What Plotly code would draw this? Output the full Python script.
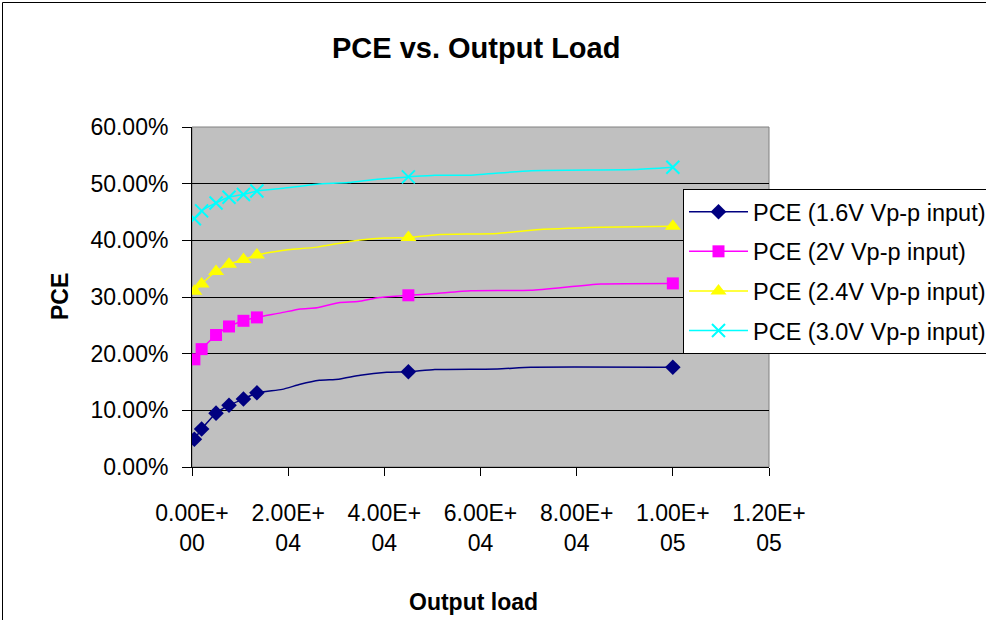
import plotly.graph_objects as go

# ---- data ----
load_pts = [500, 2000, 5000, 7700, 10700, 13500, 45000, 100000]
pce_16 = [4.9, 6.7, 9.5, 10.9, 12.0, 13.1, 16.8, 17.6]
pce_20 = [19.0, 20.8, 23.3, 24.8, 25.8, 26.4, 30.3, 32.4]
pce_24 = [31.0, 32.3, 34.5, 35.8, 36.6, 37.4, 40.5, 42.5]
pce_30 = [43.8, 45.2, 46.6, 47.6, 48.1, 48.7, 51.2, 52.9]

# smoothed connecting lines (vertices)
line_x_16 = [500, 2000, 5000, 7700, 10700, 13500, 18750, 22500, 26500, 30500, 35000, 40500, 45000, 50500, 63500, 70500, 100000]
line_y_16 = [4.9, 6.7, 9.5, 10.9, 12.0, 13.1, 13.7, 14.6, 15.3, 15.5, 16.2, 16.7, 16.8, 17.2, 17.3, 17.6, 17.6]
line_x_20 = [500, 2000, 5000, 7700, 10700, 13500, 18500, 22500, 26000, 30500, 34500, 39000, 45000, 50500, 58000, 70500, 85000, 100000]
line_y_20 = [19.0, 20.8, 23.3, 24.8, 25.8, 26.4, 27.2, 27.9, 28.1, 29.0, 29.2, 29.9, 30.3, 30.6, 31.1, 31.2, 32.3, 32.4]
line_x_24 = [500, 2000, 5000, 7700, 10700, 13500, 18750, 26000, 33500, 40000, 45000, 51000, 63500, 70500, 85000, 100000]
line_y_24 = [31.0, 32.3, 34.5, 35.8, 36.6, 37.4, 38.2, 38.8, 39.9, 40.4, 40.5, 41.0, 41.2, 41.8, 42.3, 42.5]
line_x_30 = [500, 2000, 5000, 7700, 10700, 13500, 19000, 26000, 32500, 38500, 45000, 50500, 58000, 70500, 92000, 100000]
line_y_30 = [43.8, 45.2, 46.6, 47.6, 48.1, 48.7, 49.2, 49.9, 50.2, 50.8, 51.2, 51.5, 51.5, 52.3, 52.5, 52.9]

series_names = ["PCE (1.6V Vp-p input)", "PCE (2V Vp-p input)",
                "PCE (2.4V Vp-p input)", "PCE (3.0V Vp-p input)"]

x_tickvals = [0, 20000, 40000, 60000, 80000, 100000, 120000]
x_ticktext = ["0.00E+<br>00", "2.00E+<br>04", "4.00E+<br>04", "6.00E+<br>04",
              "8.00E+<br>04", "1.00E+<br>05", "1.20E+<br>05"]
y_tickvals = [0, 0.1, 0.2, 0.3, 0.4, 0.5, 0.6]

# ---- styles ----
FONT = "Liberation Sans, Arial, sans-serif"
styles = [
    dict(color="#000080", symbol="diamond", size=12, lw=1.5),
    dict(color="#FF00FF", symbol="square", size=12, lw=1.5),
    dict(color="#FFFF00", symbol="triangle-up", size=14, lw=1.5),
    dict(color="#00FFFF", symbol="x-thin", size=13, lw=1.5),
]
pts = [pce_16, pce_20, pce_24, pce_30]
lines = [(line_x_16, line_y_16), (line_x_20, line_y_20),
         (line_x_24, line_y_24), (line_x_30, line_y_30)]

fig = go.Figure()
for i, (name, st, yv, (lx, ly)) in enumerate(zip(series_names, styles, pts, lines)):
    grp = f"g{i}"
    marker = dict(color=st["color"], symbol=st["symbol"], size=st["size"],
                  line=dict(color=st["color"], width=2 if st["symbol"] == "x-thin" else 0))
    fig.add_trace(go.Scatter(x=lx, y=[v / 100 for v in ly], mode="lines",
                             line=dict(color=st["color"], width=st["lw"], shape="spline", smoothing=0.5),
                             legendgroup=grp, showlegend=False, hoverinfo="skip"))
    fig.add_trace(go.Scatter(x=load_pts, y=[v / 100 for v in yv], mode="markers",
                             marker=marker, legendgroup=grp, showlegend=False, name=name))
    fig.add_trace(go.Scatter(x=[None], y=[None], mode="lines+markers", name=name,
                             line=dict(color=st["color"], width=st["lw"]),
                             marker=marker, legendgroup=grp, showlegend=True))

L, R, T, B = 192, 217, 127, 153
W, H = 986, 620
pw, ph = W - L - R, H - T - B

def px(x):
    return (x - L) / pw

def py(y):
    return (H - B - y) / ph

fig.update_layout(
    width=W, height=H,
    margin=dict(l=L, r=R, t=T, b=B, autoexpand=False),
    paper_bgcolor="white",
    plot_bgcolor="#C0C0C0",
    font=dict(family=FONT, size=23, color="black"),
    showlegend=True,
    legend=dict(x=px(683), y=py(189), xanchor="left", yanchor="top",
                bgcolor="white", bordercolor="black", borderwidth=1,
                font=dict(family=FONT, size=23.5, color="black"),
                traceorder="grouped", tracegroupgap=6, itemwidth=59),
    xaxis=dict(range=[0, 120000], tickvals=x_tickvals, ticktext=x_ticktext,
               showgrid=False, zeroline=False, showline=True, linecolor="black", linewidth=1,
               ticks="outside", ticklen=8, tickcolor="black", ticklabelstandoff=17,
               tickfont=dict(family=FONT, size=23, color="black")),
    yaxis=dict(range=[0, 0.6], tickvals=y_tickvals, tickformat=".2%",
               showgrid=True, gridcolor="black", gridwidth=1, zeroline=False,
               showline=True, linecolor="black", linewidth=1,
               ticks="outside", ticklen=9, tickcolor="black", ticklabelstandoff=9,
               tickfont=dict(family=FONT, size=23, color="black")),
    shapes=[
        dict(type="rect", xref="paper", yref="paper", x0=0, x1=1, y0=0, y1=1,
             line=dict(color="#808080", width=1), layer="below"),
        dict(type="rect", xref="paper", yref="paper", x0=px(2.5), x1=px(1100),
             y0=py(700), y1=py(2.5), line=dict(color="black", width=1)),
    ],
    annotations=[
        dict(text="<b>PCE vs. Output Load</b>", xref="paper", yref="paper",
             x=px(476), y=py(48), xanchor="center", yanchor="middle", showarrow=False,
             font=dict(family=FONT, size=29, color="black")),
        dict(text="<b>PCE</b>", xref="paper", yref="paper", textangle=-90,
             x=px(60), y=py(297), xanchor="center", yanchor="middle", showarrow=False,
             font=dict(family=FONT, size=23, color="black")),
        dict(text="<b>Output load</b>", xref="paper", yref="paper",
             x=px(473), y=py(602), xanchor="center", yanchor="middle", showarrow=False,
             font=dict(family=FONT, size=23, color="black")),
    ],
)

fig.write_html("out.html")
